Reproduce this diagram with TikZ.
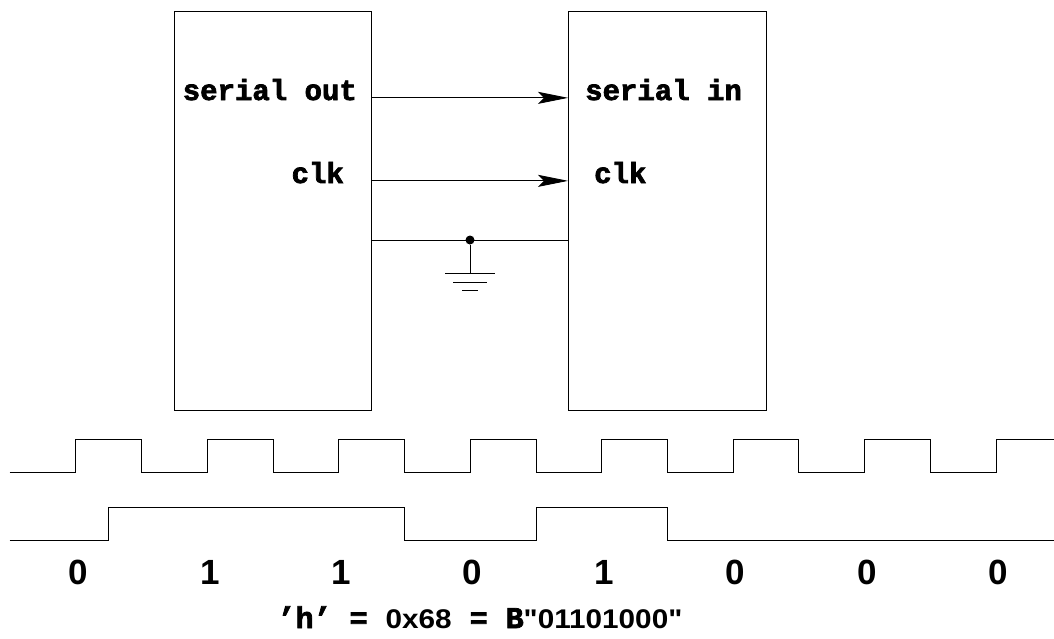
\documentclass[tikz,border=0pt]{standalone}
\usepackage{fontspec}
\setmonofont{Liberation Mono}[BoldFeatures={FakeBold=2.5}]
\newfontfamily\bitfont{Liberation Sans}
\newfontfamily\widebits[FakeStretch=1.1]{Liberation Sans}
\usetikzlibrary{arrows.meta,calc}
\tikzset{box/.style={draw,line width=1pt,minimum width=197.5pt,minimum height=399.5pt,inner sep=0}}
\tikzset{lbl/.style={inner sep=0,font=\fontsize{29}{32}\selectfont\ttfamily\bfseries}}
\tikzset{sig/.style={-{Stealth[length=30pt,width=12pt,inset=6pt]},line width=0.8pt}}
\tikzset{wire/.style={line width=0.8pt}}
\tikzset{dot/.style={fill,circle,inner sep=0,minimum size=9pt}}
\tikzset{bit/.style={inner sep=0,anchor=base,font=\fontsize{35}{40}\selectfont\bitfont\bfseries}}

\begin{document}
\begin{tikzpicture}[x=1pt,y=-1pt]
    \useasboundingbox (0,0) rectangle (1054,638);
    % sender and receiver
    \node [box] (tx) at (272.75,210.75) {};
    \node [box] (rx) at (667.25,210.75) {};
    \node [lbl,anchor=base east] (sout) at (357,100) {serial out};
    \node [lbl,anchor=base east] (tclk) at (344,183) {clk};
    \node [lbl,anchor=base west] (sin) at (585,100) {serial in};
    \node [lbl,anchor=base west] (rclk) at (594,183) {clk};
    \draw [sig] (sout.mid -| tx.east) -- (sout.mid -| rx.west);
    \draw [sig] (tclk.mid -| tx.east) -- (tclk.mid -| rx.west);
    % common ground
    \node [dot] (gnd) at (470,240) {};
    \draw [wire] (gnd -| tx.east) -- (gnd -| rx.west);
    \draw [wire] (gnd) -- ++(0,33) coordinate (gb);
    \draw [wire] (gb) ++(-25,0) -- ++(50,0);
    \draw [wire] ($(gb)+(-17,9)$) -- ++(34,0);
    \draw [wire] ($(gb)+(-8,17)$) -- ++(16,0);
    % clock and data
    \draw [wire] (9.6,472) foreach \k [evaluate=\k as \x using {75.8+65.73*\k},
        evaluate=\k as \y using {439+33*mod(\k,2)}] in {0,...,14} { -| (\x,\y) } -- (1054,439);
    \draw [wire] (9.6,540) -| (108.8,507) -| (404,540) -| (536,507) -| (667.5,540) -- (1054,540);
    \foreach \b [count=\i from 0] in {0,1,1,0,1,0,0,0}
        \node [bit] (b\i) at ({78.5+131.4*\i},584) {\b};
    \node [inner sep=0,anchor=base] (code) at (480,628)
        {\fontsize{30}{34}\selectfont\ttfamily\bfseries ’h’ = {\fontsize{27}{30}\selectfont\widebits\bfseries 0x68} = B{\fontsize{27}{30}\selectfont\widebits\bfseries "01101000"}};
\end{tikzpicture}
\end{document}
